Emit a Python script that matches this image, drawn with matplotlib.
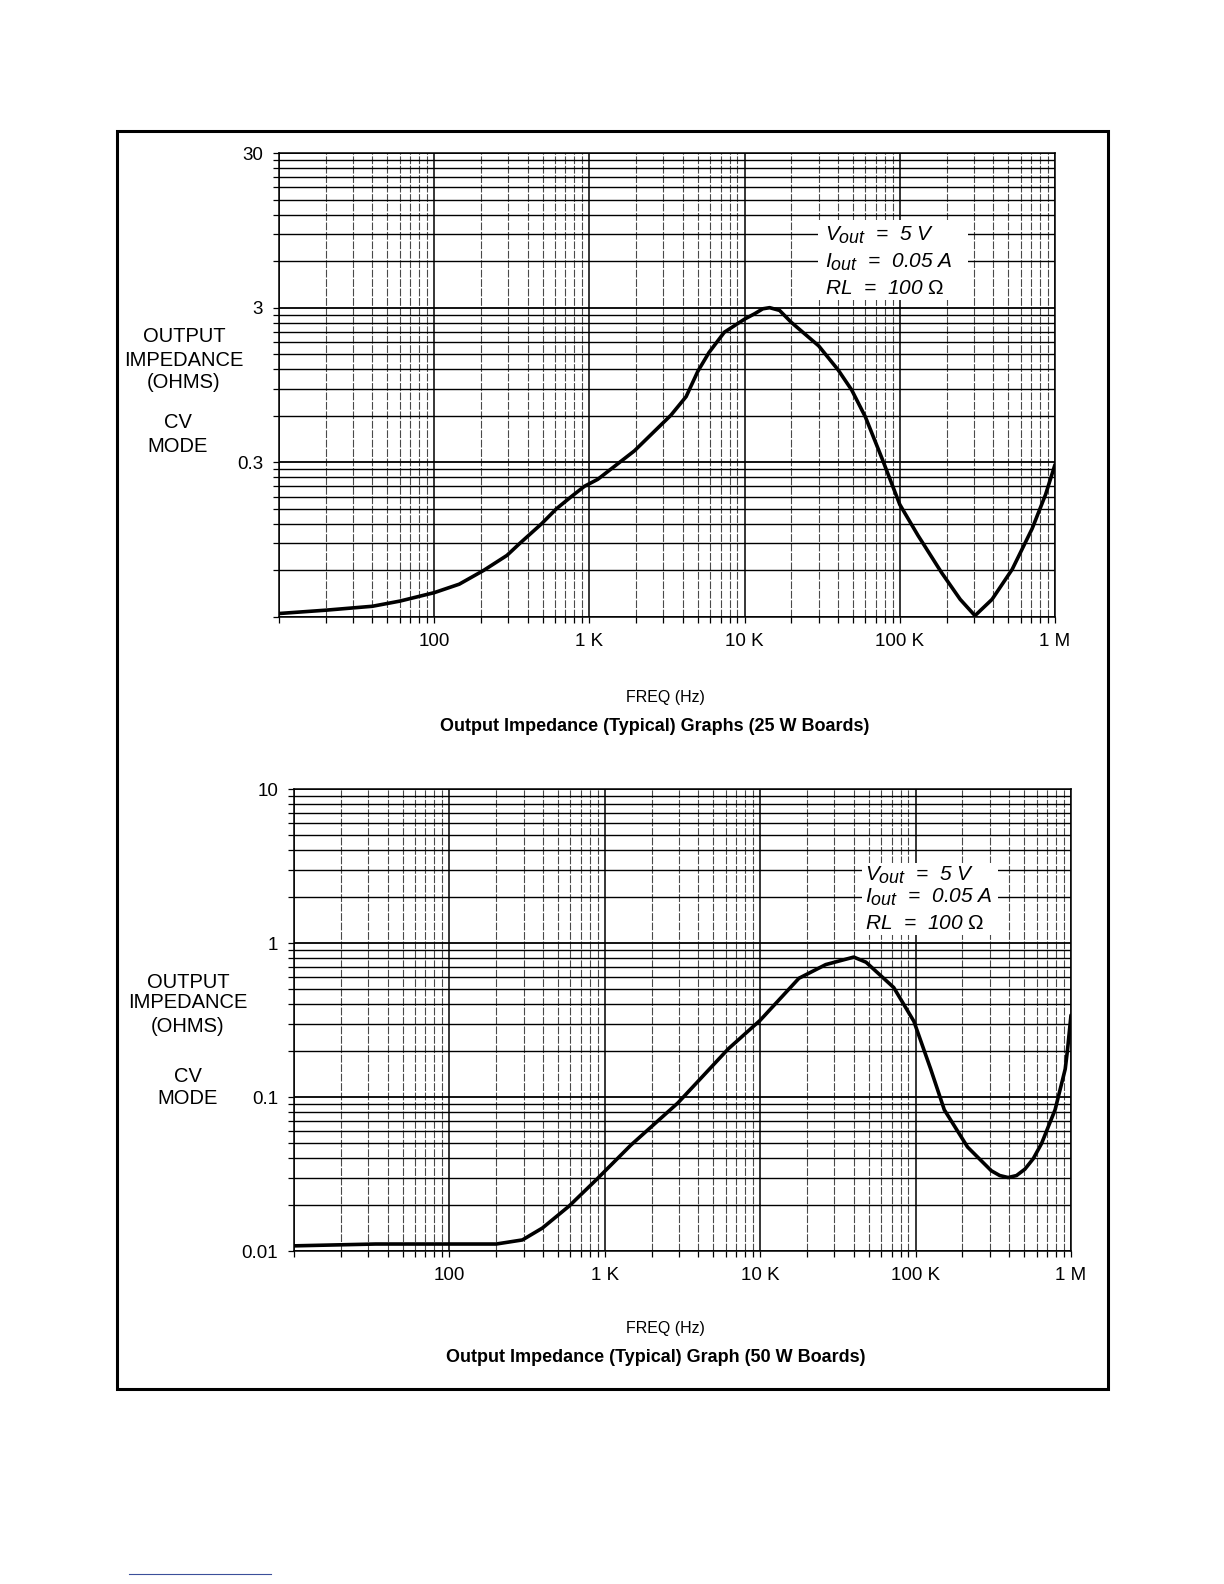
import matplotlib
matplotlib.use("Agg")
import matplotlib.pyplot as plt
import matplotlib._mathtext as mtext
from matplotlib.ticker import FixedLocator, FixedFormatter, NullFormatter
from matplotlib.patches import Rectangle
from matplotlib.lines import Line2D

plt.rcParams['font.family'] = ['Liberation Sans', 'DejaVu Sans']
plt.rcParams['mathtext.fontset'] = 'custom'
plt.rcParams['mathtext.rm'] = 'Liberation Sans'
plt.rcParams['mathtext.it'] = 'Liberation Sans:italic'
# the subscripts in the original are nearly full size
mtext.SHRINK_FACTOR = 0.85

# 25 W boards
freq_25 = [10, 20, 40, 60, 100, 145, 208, 294, 357, 491, 612, 764, 929, 1132,
           1950, 3350, 4200, 5000, 5900, 7400, 10000, 11600, 13100, 14500, 16800,
           20000, 30000, 40000, 49000, 60000, 76500, 100000, 131000, 186000,
           245000, 305000, 393000, 530000, 713000, 870000, 1000000]
z_25 = [0.0316, 0.0332, 0.0352, 0.038, 0.0431, 0.0489, 0.06, 0.075, 0.09, 0.12,
        0.15, 0.18, 0.21, 0.233, 0.356, 0.605, 0.798, 1.165, 1.54, 2.08, 2.53,
        2.74, 2.95, 3.0, 2.88, 2.41, 1.70, 1.19, 0.88, 0.59, 0.321, 0.16, 0.101,
        0.058, 0.039, 0.0306, 0.039, 0.061, 0.112, 0.186, 0.29]

# 50 W boards
freq_50 = [10, 33.5, 100, 200, 295, 397, 590, 890, 1468, 2950, 6220, 10000,
           17750, 26400, 40000, 48000, 72300, 97500, 125000, 153000, 216000,
           307000, 348000, 394000, 446000, 505000, 571000, 646000, 790000,
           918000, 951000, 1000000]
z_50 = [0.0108, 0.0111, 0.0111, 0.0111, 0.0118, 0.0141, 0.0196, 0.0293, 0.0486,
        0.0914, 0.205, 0.315, 0.59, 0.724, 0.81, 0.75, 0.514, 0.31, 0.152,
        0.0826, 0.0473, 0.0332, 0.0309, 0.030, 0.0309, 0.034, 0.0397, 0.0498,
        0.0826, 0.152, 0.205, 0.34]

x_major = [10, 100, 1e3, 1e4, 1e5, 1e6]
x_labels = ['', '100', '1 K', '10 K', '100 K', '1 M']
x_minor = [k * 10 ** e for e in range(1, 6) for k in range(2, 10)]

y_major_25 = [0.03, 0.3, 3, 30]
y_labels_25 = ['', '0.3', '3', '30']
y_minor_25 = [3 * k * 10.0 ** e for e in (-2, -1, 0) for k in range(2, 10)]

y_major_50 = [0.01, 0.1, 1, 10]
y_labels_50 = ['0.01', '0.1', '1', '10']
y_minor_50 = [k * 10.0 ** e for e in (-2, -1, 0) for k in range(2, 10)]

W, H = 1224, 1584
fig = plt.figure(figsize=(W / 100, H / 100), dpi=100)


def px(x, y):
    return x / W, 1 - y / H


def make_axes(left, top, right, bottom):
    return fig.add_axes([left / W, 1 - bottom / H, (right - left) / W, (bottom - top) / H])


def setup(ax, ymaj, ylab, ymin, ylim):
    ax.set_xscale('log')
    ax.set_yscale('log')
    ax.set_xlim(10, 1e6)
    ax.set_ylim(*ylim)
    ax.xaxis.set_major_locator(FixedLocator(x_major))
    ax.xaxis.set_major_formatter(FixedFormatter(x_labels))
    ax.xaxis.set_minor_locator(FixedLocator(x_minor))
    ax.xaxis.set_minor_formatter(NullFormatter())
    ax.yaxis.set_major_locator(FixedLocator(ymaj))
    ax.yaxis.set_major_formatter(FixedFormatter(ylab))
    ax.yaxis.set_minor_locator(FixedLocator(ymin))
    ax.yaxis.set_minor_formatter(NullFormatter())
    ax.set_axisbelow(True)
    ax.grid(which='major', axis='y', color='black', lw=1.3)
    ax.grid(which='minor', axis='y', color='black', lw=1.0)
    ax.grid(which='major', axis='x', color='black', lw=1.1)
    ax.grid(which='minor', axis='x', color='#4a4a4a', lw=0.8, ls=(0, (7, 1.5)))
    ax.tick_params(which='both', direction='out', length=4.5, width=0.9, color='black')
    ax.tick_params(axis='x', which='major', labelsize=13.5, pad=7)
    ax.tick_params(axis='y', which='major', labelsize=13.5, pad=7)
    for s in ax.spines.values():
        s.set_linewidth(1.1)


def note(ax, x0, y0, w, h, tx, ty):
    ax.add_patch(Rectangle((x0, y0), w, h, transform=ax.transAxes,
                           facecolor='white', edgecolor='none', zorder=2))
    lines = [r'$V_{out}$  =  5 V', r'$I_{out}$  =  0.05 A', r'RL  =  100 $\Omega$']
    for t, yy in zip(lines, ty):
        ax.text(tx, yy, t, transform=ax.transAxes, ha='left', va='center',
                fontsize=15, style='italic', zorder=3)


# top graph
ax1 = make_axes(279, 153, 1055, 617)
setup(ax1, y_major_25, y_labels_25, y_minor_25, (0.03, 30))
ax1.plot(freq_25, z_25, color='black', lw=2.6, zorder=4, solid_capstyle='round',
         solid_joinstyle='round')
note(ax1, 0.695, 0.683, 0.193, 0.173, 0.704, [0.823, 0.765, 0.709])

# bottom graph
ax2 = make_axes(294, 789, 1071, 1251)
setup(ax2, y_major_50, y_labels_50, y_minor_50, (0.01, 10))
ax2.plot(freq_50, z_50, color='black', lw=2.6, zorder=4, solid_capstyle='round',
         solid_joinstyle='round')
note(ax2, 0.731, 0.684, 0.175, 0.156, 0.735, [0.814, 0.766, 0.708])

# side labels
for txt, x, y in [('OUTPUT', 184, 336), ('IMPEDANCE', 184, 360), ('(OHMS)', 184, 383),
                  ('CV', 178, 423), ('MODE', 178, 446),
                  ('OUTPUT', 188, 982), ('IMPEDANCE', 188, 1003), ('(OHMS)', 188, 1026),
                  ('CV', 188, 1076), ('MODE', 188, 1098)]:
    fig.text(*px(x, y), txt, ha='center', va='center', fontsize=14.5)

fig.text(*px(665, 697), 'FREQ (Hz)', ha='center', va='center', fontsize=11.5)
fig.text(*px(655, 727), 'Output Impedance (Typical) Graphs (25 W Boards)',
         ha='center', va='center', fontsize=13, fontweight='bold')
fig.text(*px(665, 1329), 'FREQ (Hz)', ha='center', va='center', fontsize=11.5)
fig.text(*px(656, 1358), 'Output Impedance (Typical) Graph (50 W Boards)',
         ha='center', va='center', fontsize=13, fontweight='bold')

# outer frame and footer rule
x0, y0 = px(117, 1389)
x1, y1 = px(1108, 131)
fig.add_artist(Rectangle((x0, y0), x1 - x0, y1 - y0, transform=fig.transFigure,
                         fill=False, lw=2.2, edgecolor='black'))
fa, fy = px(129, 1574)
fb, _ = px(271, 1574)
fig.add_artist(Line2D([fa, fb], [fy, fy], transform=fig.transFigure, lw=0.8, color='#3b4f9a'))

fig.savefig('out.png', dpi=100)
